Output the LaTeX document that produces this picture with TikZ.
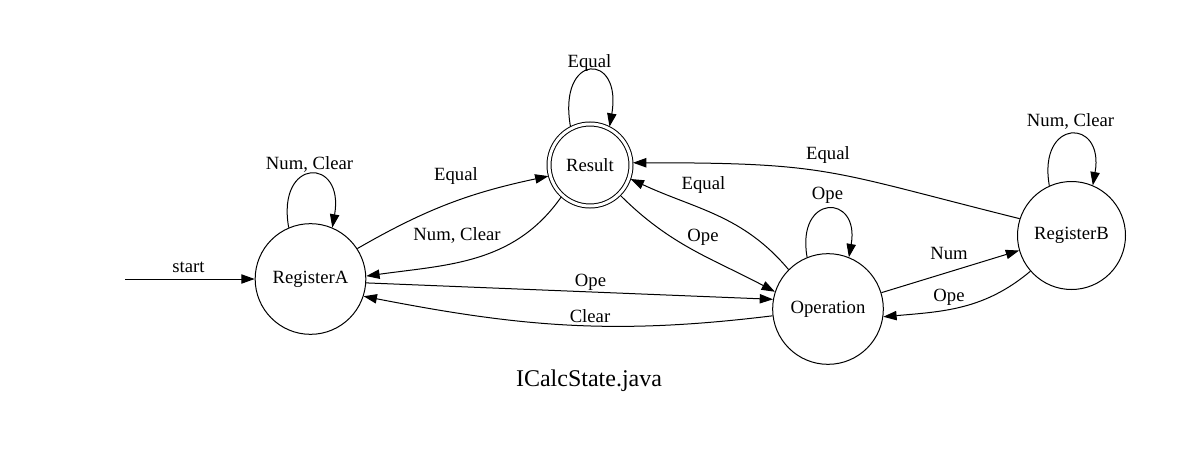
\documentclass[tikz,border=0pt]{standalone}
\usepackage{fontspec}
\newfontfamily\dotfont{Liberation Serif}
\usetikzlibrary{arrows.meta}

\begin{document}
\begin{tikzpicture}[x=0.75pt, y=0.75pt, line width=0.75pt,
  state/.style={circle, draw, inner sep=0pt, minimum size=83pt, font=\dotfont\fontsize{14}{16}\selectfont},
  final/.style={state, double, double distance=2.25pt, minimum size=61.5pt, outer sep=1.5pt},
  lbl/.style={inner sep=0pt, text height=9.2pt, text depth=3pt, font=\dotfont\fontsize{14}{16}\selectfont},
  >={Triangle[length=10pt, width=7pt]}]
\useasboundingbox (0,0) rectangle (1179,455);

\node[state] (RegisterA) at (310.5,176) {RegisterA};
\node[final] (Result) at (590,290) {Result};
\node[state] (Operation) at (828,146) {Operation};
\node[state, minimum size=81pt] (RegisterB) at (1071.5,219.5) {RegisterB};
\coordinate (start) at (125,176);
\node[font=\dotfont\fontsize{18}{22}\selectfont] (title) at (589,74) {ICalcState.java};

\draw[->] (start) -- (RegisterA) node[lbl] at (188.5,187) {start};
\draw[->] (RegisterA.113) .. controls +(100:72) and +(80:72) .. (RegisterA.67) node[lbl] at (309.5,290) {Num, Clear};
\draw[->] (RegisterA.33) to[out=30, in=192] (Result.195) node[lbl] at (456,279) {Equal};
\draw[->] (Result.228) to[out=-125, in=8] (RegisterA.3) node[lbl] at (457,219) {Num, Clear};
\draw[->] (RegisterA.-4) -- (Operation.170) node[lbl] at (590.5,173) {Ope};
\draw[->] (Operation.187) to[out=187, in=-11] (RegisterA.-18) node[lbl] at (590,137) {Clear};
\draw[->] (Result.117) .. controls +(100:76) and +(80:76) .. (Result.63) node[lbl] at (589.5,392) {Equal};
\draw[->] (Result.-45) to[out=-45, in=152] (Operation.162) node[lbl] at (703,218) {Ope};
\draw[->] (Operation.135) to[out=130, in=-25] (Result.-19) node[lbl] at (703.5,270) {Equal};
\draw[->] (RegisterB.162) to[out=166, in=0, looseness=1.3] (Result.3) node[lbl] at (828,300) {Equal};
\draw[->] (Operation.112) .. controls +(100:65) and +(80:65) .. (Operation.68) node[lbl] at (827.5,260) {Ope};
\draw[->] (Operation.17) -- (RegisterB.196) node[lbl] at (949,200) {Num};
\draw[->] (RegisterB.221) to[out=220, in=5] (Operation.-8) node[lbl] at (949,158) {Ope};
\draw[->] (RegisterB.114) .. controls +(100:69) and +(80:69) .. (RegisterB.67) node[lbl] at (1070.5,333) {Num, Clear};
\end{tikzpicture}
\end{document}
